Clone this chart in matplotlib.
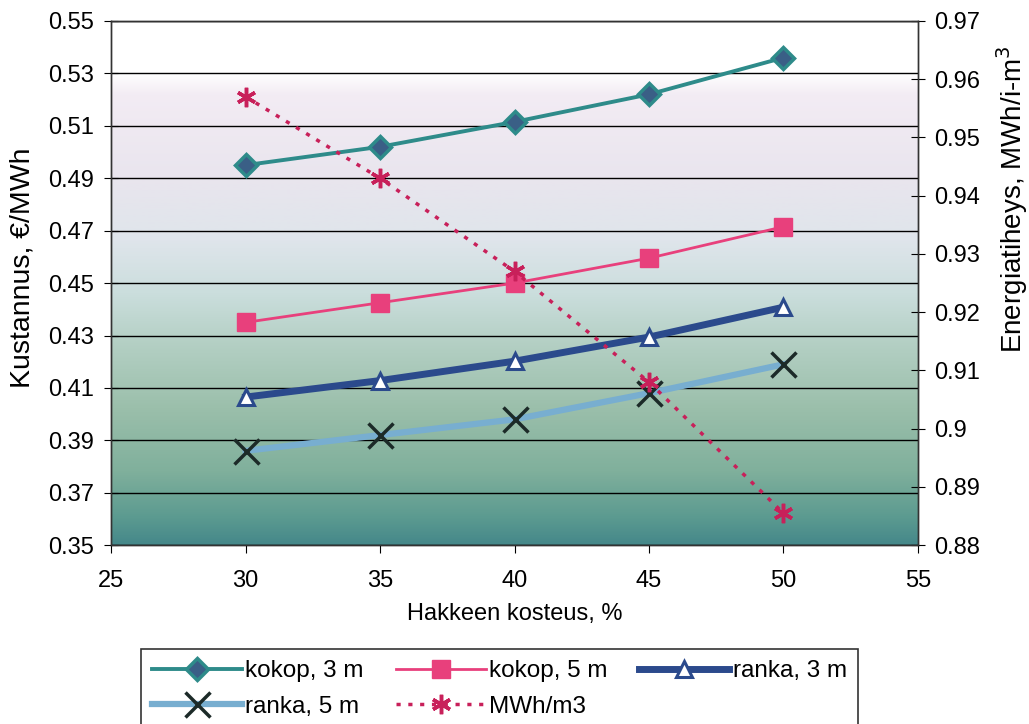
import matplotlib
matplotlib.use("Agg")
import matplotlib.pyplot as plt
import numpy as np
from matplotlib.colors import LinearSegmentedColormap

# ---------------------------------------------------------------------
# Data
# ---------------------------------------------------------------------
moisture = [30, 35, 40, 45, 50]
kokop_3m = [0.495, 0.502, 0.5115, 0.522, 0.536]
kokop_5m = [0.435, 0.4425, 0.450, 0.4595, 0.4715]
ranka_3m = [0.4065, 0.4128, 0.4202, 0.4294, 0.4408]
ranka_5m = [0.386, 0.392, 0.398, 0.408, 0.419]
energy = [0.957, 0.943, 0.927, 0.908, 0.8855]

left_ticks = np.arange(0.35, 0.5501, 0.02)
right_ticks = np.arange(0.88, 0.9701, 0.01)
right_labels = ["0.88", "0.89", "0.9", "0.91", "0.92", "0.93",
                "0.94", "0.95", "0.96", "0.97"]

plt.rcParams["font.family"] = ["Liberation Sans", "DejaVu Sans"]
FS = 17

fig = plt.figure(figsize=(10.29, 7.24), dpi=100)
ax = fig.add_axes([0.108, 0.247, 0.784, 0.724])

# background gradient (white top -> lilac -> grey-blue -> green -> teal)
bg = LinearSegmentedColormap.from_list("bg", [
    (0.00, "#ffffff"), (0.10, "#ffffff"), (0.14, "#f3ecf4"),
    (0.30, "#e9e5ee"), (0.42, "#dfe5eb"), (0.52, "#cbdedd"),
    (0.62, "#b3cfc3"), (0.74, "#9bbfab"), (0.86, "#80b09c"),
    (0.95, "#5b9a90"), (1.00, "#45888a"),
])
grad = np.linspace(0, 1, 256).reshape(-1, 1)
ax.imshow(grad, cmap=bg, aspect="auto", extent=[0, 1, 0, 1],
          transform=ax.transAxes, zorder=0)

ax.set_xlim(25, 55)
ax.set_ylim(0.35, 0.55)
ax.set_xticks(np.arange(25, 56, 5))
ax.set_yticks(left_ticks)
ax.set_yticklabels([f"{v:.2f}" for v in left_ticks])
ax.grid(axis="y", color="black", linewidth=1.0, zorder=1)
ax.set_axisbelow(False)

l1, = ax.plot(moisture, kokop_3m, color="#2e8b8a", lw=2.8, marker="D", ms=11,
              mfc="#3a5f86", mec="#2e8b8a", mew=2.5, label="kokop, 3 m", zorder=3)
l2, = ax.plot(moisture, kokop_5m, color="#e8407c", lw=2, marker="s", ms=13,
              mfc="#e8407c", mec="#e8407c", label="kokop, 5 m", zorder=3)
l3, = ax.plot(moisture, ranka_3m, color="#2b4a8c", lw=5, marker="^", ms=11,
              mfc="white", mec="#2b4a8c", mew=2.2, label="ranka, 3 m", zorder=3)
l4, = ax.plot(moisture, ranka_5m, color="#78aed0", lw=4.5, marker="x", ms=18,
              mec="#1c2a28", mew=2.5, label="ranka, 5 m", zorder=3)

ax2 = ax.twinx()
ax2.set_ylim(0.88, 0.97)
ax2.set_yticks(right_ticks)
ax2.set_yticklabels(right_labels)
l5, = ax2.plot(moisture, energy, color="#c8205a", lw=2.5, ls=(0, (1.2, 2.2)),
               marker=(6, 2, 0), ms=14, mew=2.5, mec="#c8205a",
               label="MWh/m3", zorder=3)

for a in (ax, ax2):
    for s in a.spines.values():
        s.set_color("#333333")
        s.set_linewidth(1.0)
ax.tick_params(axis="y", direction="inout", length=10, labelsize=FS, pad=7)
ax.tick_params(axis="x", direction="out", length=6, labelsize=FS, pad=12)
ax2.tick_params(axis="y", direction="inout", length=10, labelsize=FS, pad=7)

ax.set_xlabel("Hakkeen kosteus, %", fontsize=FS, labelpad=8)
ax.set_ylabel("Kustannus, €/MWh", fontsize=20.5)
ax.yaxis.set_label_coords(-0.094, 0.53)
ax2.set_ylabel("Energiatiheys, MWh/i-m$^3$", fontsize=20)
ax2.yaxis.set_label_coords(1.095, 0.66)

# column-wise fill order so the rows read: k3 k5 r3 / r5 MWh
leg = fig.legend(handles=[l1, l4, l2, l5, l3], ncol=3,
                 loc="upper left", bbox_to_anchor=(0.137, 0.103),
                 prop={"size": 17.5}, frameon=True, fancybox=False,
                 handlelength=3.7, handletextpad=0.15, columnspacing=1.3,
                 borderpad=0.45, labelspacing=0.55, borderaxespad=0)
leg.get_frame().set_edgecolor("black")
leg.get_frame().set_linewidth(1.2)

fig.savefig("out.png", dpi=100)
